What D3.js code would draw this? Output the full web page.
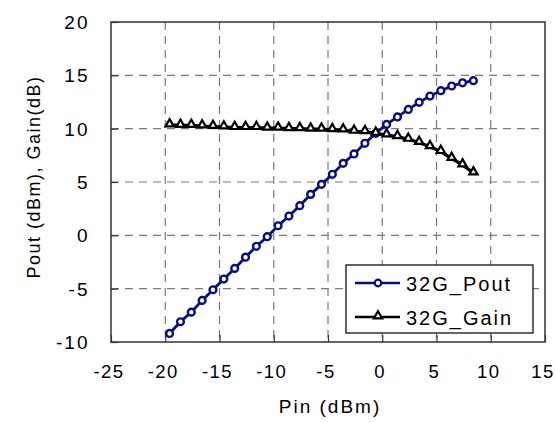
<!DOCTYPE html>
<html>
<head>
<meta charset="UTF-8" />
<title>32G Pout / Gain</title>
<script src="https://cdn.jsdelivr.net/npm/d3@7"></script>
<style>
body{margin:0;background:#fff;}
svg text{font-family:Arial,"Liberation Sans",sans-serif;fill:#000;}
</style>
</head>
<body>
<div id="chart"></div>
<script type="text/javascript">
var w=555,h=422;
var pLeft=111,pRight=545,pTop=22,pBottom=342;

var pin=[-19.6,-18.6,-17.6,-16.6,-15.6,-14.6,-13.6,-12.6,-11.6,-10.6,-9.6,-8.6,-7.6,-6.6,-5.6,
         -4.6,-3.6,-2.6,-1.6,-0.6,0.4,1.4,2.4,3.4,4.4,5.4,6.4,7.4,8.4];
var pout=[-9.2,-8.1,-7.2,-6.1,-5.1,-4.1,-3.1,-2.05,-1.03,-0.13,0.9,1.81,2.78,3.84,4.78,
          5.72,6.75,7.63,8.63,9.56,10.4,11.1,11.8,12.47,13.06,13.56,14.0,14.3,14.5];
var gain=[10.35,10.3,10.3,10.25,10.2,10.15,10.1,10.1,10.1,10.05,10.05,10.0,10.0,9.95,9.95,
          9.9,9.87,9.75,9.72,9.56,9.4,9.25,9.0,8.7,8.3,7.85,7.2,6.6,5.85];
var xTicks=[-25,-20,-15,-10,-5,0,5,10,15];
var yTicks=[-10,-5,0,5,10,15,20];
var seriesNames=['32G_Pout','32G_Gain'];

var svg=d3.select('#chart').append('svg')
          .attr('width',w)
          .attr('height',h);

var x=d3.scaleLinear().domain([-25,15]).range([pLeft,pRight]);
var y=d3.scaleLinear().domain([-10,20]).range([pBottom,pTop]);

// grid
svg.append('g').selectAll('line')
   .data(xTicks.slice(1,-1))
   .enter().append('line')
   .attr('x1',function(d){return x(d);}).attr('x2',function(d){return x(d);})
   .attr('y1',pTop).attr('y2',pBottom)
   .attr('stroke','#7a7a7a').attr('stroke-width',1.2)
   .attr('stroke-dasharray','8,6');
svg.append('g').selectAll('line')
   .data(yTicks.slice(1,-1))
   .enter().append('line')
   .attr('y1',function(d){return y(d);}).attr('y2',function(d){return y(d);})
   .attr('x1',pLeft).attr('x2',pRight)
   .attr('stroke','#7a7a7a').attr('stroke-width',1.2)
   .attr('stroke-dasharray','8,6');

// axes, ticks inside
var xAxis=svg.append('g').attr('transform','translate(0,'+pBottom+')')
   .call(d3.axisBottom(x).tickValues(xTicks).tickSize(-7).tickFormat(''));
var yAxis=svg.append('g').attr('transform','translate('+pLeft+',0)')
   .call(d3.axisLeft(y).tickValues(yTicks).tickSize(-7).tickFormat(''));
[xAxis,yAxis].forEach(function(a){
  a.select('.domain').remove();
  a.selectAll('line').attr('stroke','#333').attr('stroke-width',1.2);
});

// frame
svg.append('rect')
   .attr('x',pLeft).attr('y',pTop)
   .attr('width',pRight-pLeft).attr('height',pBottom-pTop)
   .attr('fill','none').attr('stroke','#333').attr('stroke-width',1.5);

// tick labels
var ls=1.5;
svg.append('g').selectAll('text')
   .data(xTicks).enter().append('text')
   .attr('x',function(d){return x(d)-2;})
   .attr('y',378)
   .attr('text-anchor','middle')
   .style('font-size','18.5px')
   .style('letter-spacing',ls+'px')
   .text(function(d){return d;});
svg.append('g').selectAll('text')
   .data(yTicks).enter().append('text')
   .attr('x',88+ls)
   .attr('y',function(d){return y(d)+7;})
   .attr('text-anchor','end')
   .style('font-size','19px')
   .style('letter-spacing','2px')
   .text(function(d){return d;});

// axis titles
svg.append('text')
   .attr('x',330).attr('y',413)
   .attr('text-anchor','middle')
   .style('font-size','19px')
   .style('letter-spacing','2px')
   .text('Pin (dBm)');
svg.append('text')
   .attr('transform','translate(40,177) rotate(-90)')
   .attr('text-anchor','middle')
   .style('font-size','18px')
   .style('letter-spacing','1.5px')
   .text('Pout (dBm), Gain(dB)');

var navy='#0c0c82';
var line=d3.line();

// Pout
var poutPts=pin.map(function(d,i){return [x(d),y(pout[i])];});
svg.append('path').attr('d',line(poutPts))
   .attr('fill','none').attr('stroke',navy).attr('stroke-width',2.8);
svg.append('g').selectAll('circle')
   .data(poutPts).enter().append('circle')
   .attr('cx',function(d){return d[0];})
   .attr('cy',function(d){return d[1];})
   .attr('r',3.4)
   .attr('fill','#fff').attr('stroke',navy).attr('stroke-width',2.4);

// Gain
var tri=d3.symbol().type(d3.symbolTriangle).size(30);
var gainPts=pin.map(function(d,i){return [x(d),y(gain[i])];});
svg.append('path').attr('d',line(gainPts))
   .attr('fill','none').attr('stroke','#000').attr('stroke-width',3.2);
svg.append('g').selectAll('path')
   .data(gainPts).enter().append('path')
   .attr('d',tri)
   .attr('transform',function(d){return 'translate('+d[0]+','+(d[1]-1)+')';})
   .attr('fill','#fff').attr('stroke','#000').attr('stroke-width',2.2);

// legend
var lg=svg.append('g');
lg.append('rect')
  .attr('x',346).attr('y',265).attr('width',187).attr('height',68)
  .attr('fill','#fff').attr('stroke','#111').attr('stroke-width',1.3);
var rows=[{y:283,color:navy,mark:'circle'},{y:317,color:'#000',mark:'tri'}];
rows.forEach(function(r,i){
  lg.append('line').attr('x1',355).attr('x2',400).attr('y1',r.y).attr('y2',r.y)
    .attr('stroke',r.color).attr('stroke-width',2.5);
  if(r.mark=='circle'){
    lg.append('circle').attr('cx',378).attr('cy',r.y).attr('r',3.3)
      .attr('fill','#fff').attr('stroke',r.color).attr('stroke-width',2.2);
  }else{
    lg.append('path').attr('d',tri)
      .attr('transform','translate(378,'+(r.y-1)+')')
      .attr('fill','#fff').attr('stroke',r.color).attr('stroke-width',2.2);
  }
  lg.append('text').attr('x',406).attr('y',r.y+7.5)
    .style('font-size','20px')
    .style('letter-spacing','2px')
    .text(seriesNames[i]);
});
</script>
</body>
</html>
